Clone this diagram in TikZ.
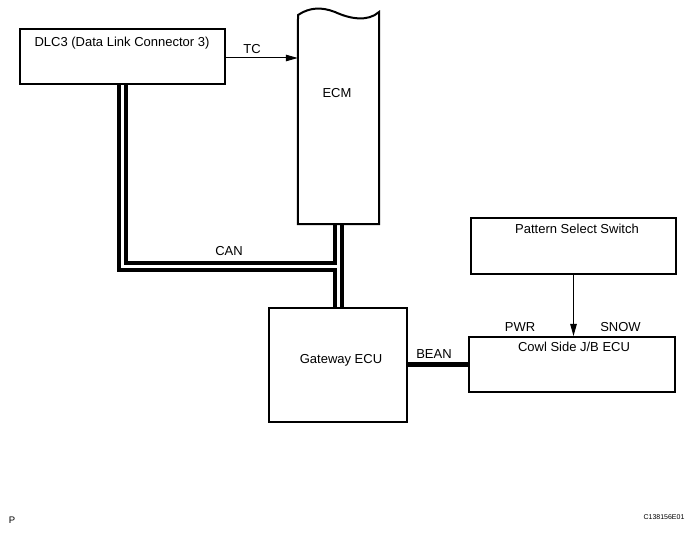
\documentclass[tikz,border=0pt]{standalone}
\usepackage{fontspec}
\setmainfont{Liberation Sans}
\usetikzlibrary{arrows.meta,backgrounds}

\tikzset{
  unit/.style={draw, line width=2pt, inner sep=0pt},
  lbl/.style={anchor=base, inner sep=0pt, font=\fontsize{13}{15}\selectfont},
  sig/.style={line width=1pt, -{Triangle[length=12pt,width=6.5pt]}},
  busout/.style={line width=11pt, line join=miter},
  busin/.style={white, line width=2.4pt, line join=miter},
  bean/.style={line width=5pt}
}

\begin{document}
\begin{tikzpicture}[x=1pt,y=-1pt]
\useasboundingbox (0,0) rectangle (696,534);

\node[unit, minimum width=205pt, minimum height=55pt] (dlc) at (122.5,56.5) {};
\node[minimum width=81pt, minimum height=212pt, inner sep=0pt] (ecm) at (338.5,118) {};
\node[unit, minimum width=138pt, minimum height=114pt] (gw) at (338,365) {};
\node[unit, minimum width=205pt, minimum height=56pt] (pss) at (573.5,246) {};
\node[unit, minimum width=206pt, minimum height=55pt] (cowl) at (572,364.5) {};

% ECM, torn off at the top
\draw[line width=2pt, line join=miter] (298,15) .. controls (310,7) and (322,7) .. (335,12)
  .. controls (350,19) and (368,22) .. (379,12) -- (ecm.south east) -- (ecm.south west) -- cycle;

% CAN bus, double line
\coordinate (canjoin) at (338.5,266.5);
\begin{scope}[on background layer]
\draw[busout] (dlc.south) |- (canjoin);
\draw[busout] (ecm.south) -- (ecm.south |- gw.north);
\draw[busin] (dlc.south) |- (canjoin);
\draw[busin] (ecm.south) -- (ecm.south |- gw.north);
\end{scope}

\draw[sig] ([yshift=-1.5pt]dlc.east) -- ([yshift=-1.5pt]dlc.east -| ecm.west);
\draw[sig] (pss.south) -- (pss.south |- cowl.north);
\draw[bean] (gw.east) -- (gw.east -| cowl.west);

\node[lbl] (dlctxt) at (122,47) {DLC3 (Data Link Connector 3)};
\node[lbl] (tc) at (252,53.3) {TC};
\node[lbl] (ecmtxt) at (337,98) {ECM};
\node[lbl] (can) at (229,255.7) {CAN};
\node[lbl] (gwtxt) at (341,363) {Gateway ECU};
\node[lbl] (beantxt) at (434,359) {BEAN};
\node[lbl] (cowltxt) at (574,352) {Cowl Side J/B ECU};
\node[lbl] (pwr) at (520,331.7) {PWR};
\node[lbl] (snow) at (620.5,331.7) {SNOW};
\node[lbl] (psstxt) at (577,234) {Pattern Select Switch};
\node[lbl, font=\fontsize{9.5}{11}\selectfont] (pmark) at (12,523) {P};
\node[lbl, font=\fontsize{7}{8}\selectfont] (figno) at (664,519) {C138156E01};
\end{tikzpicture}
\end{document}
